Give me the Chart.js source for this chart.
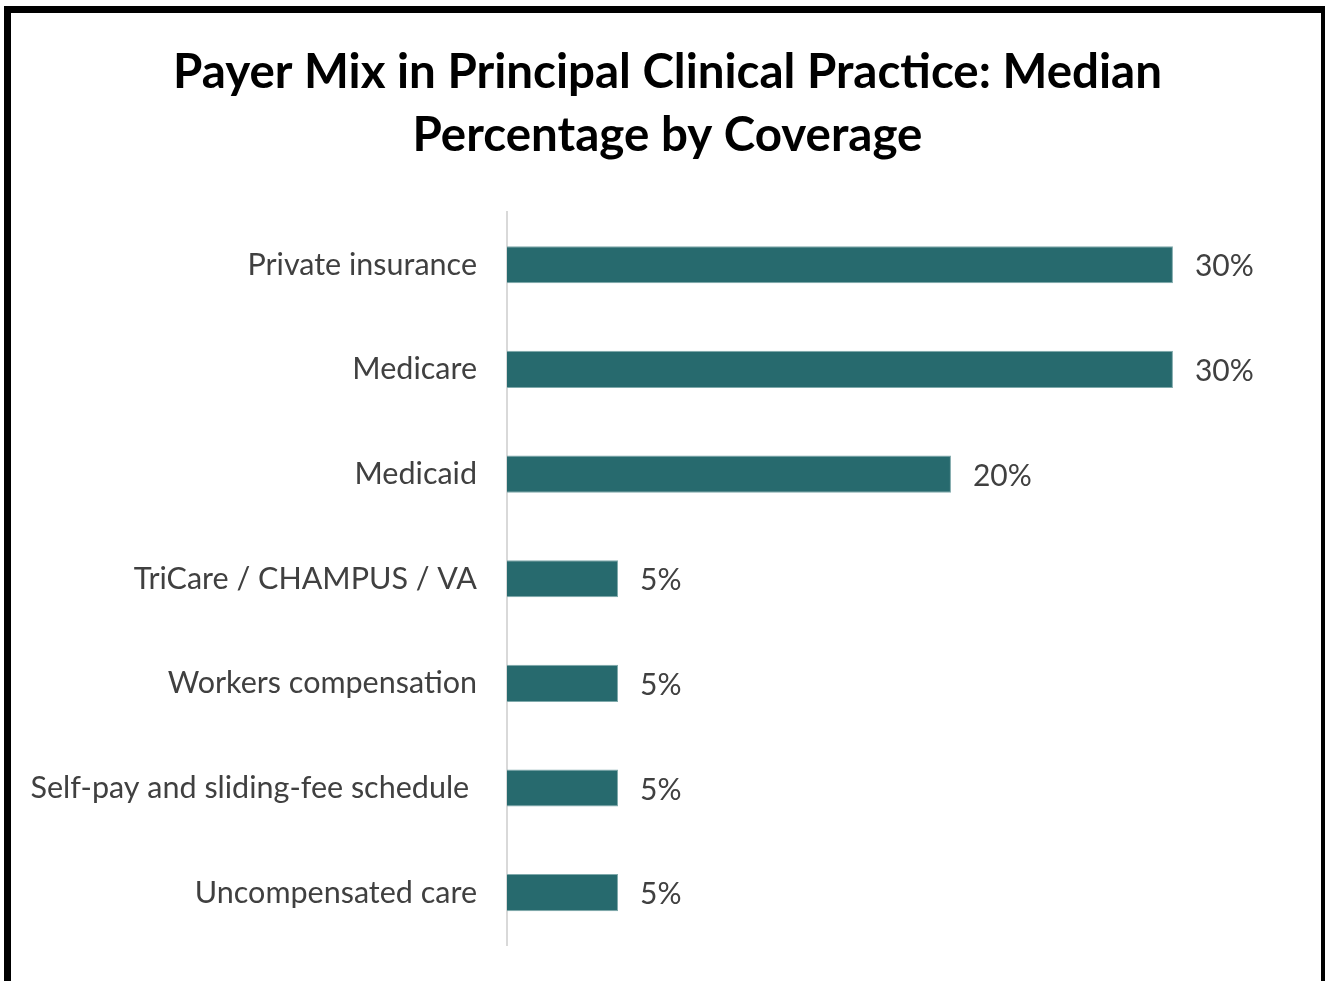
<!DOCTYPE html>
<html>
<head>
<meta charset="utf-8">
<script src="https://cdn.jsdelivr.net/npm/chart.js@4/dist/chart.umd.min.js"></script>
<style>
    html, body { margin: 0; padding: 0; background: #fff; overflow: hidden; }
    .cadre {
        position: absolute; left: 4px; top: 6px; width: 1310px; height: 1000px;
        border: 7px solid #000; border-bottom: none;
    }
    .zone { position: absolute; left: 0; top: 0; width: 1325px; height: 981px; }
</style>
</head>
<body>
<div class="cadre"></div>
<div class="zone"><canvas id="graphique-payeurs"></canvas></div>
<script>
const categories = [
    "Private insurance",
    "Medicare",
    "Medicaid",
    "TriCare / CHAMPUS / VA",
    "Workers compensation",
    "Self-pay and sliding-fee schedule ",
    "Uncompensated care"
]
const pourcentages = [30, 30, 20, 5, 5, 5, 5]
const titre = ["Payer Mix in Principal Clinical Practice: Median", "Percentage by Coverage"]

// Étiquettes de valeur au bout des barres
const etiquettesValeurs = {
    id: "etiquettesValeurs",
    afterDatasetsDraw(chart) {
        const ctx = chart.ctx
        const meta = chart.getDatasetMeta(0)
        ctx.save()
        ctx.font = "30px Lato"
        ctx.fillStyle = "#404040"
        ctx.textBaseline = "middle"
        ctx.textAlign = "left"
        meta.data.forEach((barre, i) => {
            ctx.fillText(pourcentages[i] + "%", barre.x + 22, barre.y + 2)
        })
        ctx.restore()
    }
}

const data = {
    labels: categories,
    datasets: [{
        data: pourcentages,
        backgroundColor: "#276a6e",
        borderColor: "#7fa9ab",
        borderWidth: 1,
        categoryPercentage: 1,
        barPercentage: 0.355,
    }],
}

const config = {
    type: "bar",
    data: data,
    plugins: [etiquettesValeurs],
    options: {
        indexAxis: "y",
        responsive: true,
        maintainAspectRatio: false,
        animation: false,
        layout: { padding: { left: 10, right: 0, top: 42, bottom: 36 } },
        plugins: {
            legend: { display: false },
            tooltip: { enabled: false },
            title: {
                display: true,
                text: titre,
                color: "#000",
                font: { family: "Lato", size: 47.5, weight: "bold", lineHeight: 1.31 },
                padding: { top: 0, bottom: 46 },
            },
        },
        scales: {
            x: {
                display: false,
                min: 0,
                max: 36.85,
            },
            y: {
                grid: { display: false, drawTicks: false },
                border: { display: true, color: "#d9d9d9", width: 2 },
                ticks: {
                    color: "#404040",
                    font: { family: "Lato", size: 30.5 },
                    padding: 30,
                },
                afterFit(axe) {
                    axe.width = 497
                    axe.paddingTop = 0
                    axe.paddingBottom = 0
                },
            },
        },
    },
}

const graphiquePayeurs = new Chart(document.querySelector("#graphique-payeurs"), config)
</script>
</body>
</html>
